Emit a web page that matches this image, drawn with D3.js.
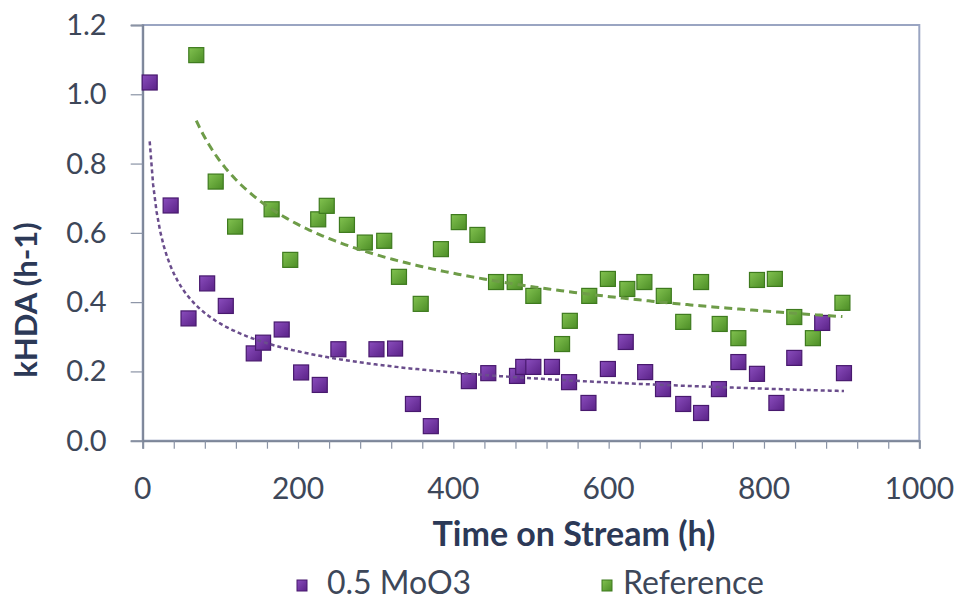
<!DOCTYPE html>
<html><head><meta charset="utf-8">
<script src="https://cdn.jsdelivr.net/npm/d3@7"></script>
<style>body{margin:0;background:#fff}svg{display:block}</style>
</head><body>
<svg id="c" width="960" height="602"></svg>
<script>
const seriesNames = ["0.5 MoO3", "Reference"];
const moX = [9,36,59,83,107,143,155,179,204,228,252,301,325,348,371,420,445,482,490,503,527,549,574,599,622,647,670,696,719,742,767,791,816,839,875,903];
const moY = [1.034,0.679,0.353,0.454,0.389,0.252,0.283,0.321,0.197,0.161,0.264,0.264,0.266,0.106,0.042,0.172,0.195,0.187,0.213,0.213,0.213,0.169,0.109,0.207,0.285,0.198,0.149,0.106,0.080,0.149,0.227,0.193,0.109,0.239,0.340,0.195];
const refX = [69,94,119,166,190,226,237,263,286,311,330,358,384,407,431,455,479,503,540,550,575,599,624,646,671,696,719,743,767,791,814,839,863,901];
const refY = [1.113,0.748,0.618,0.668,0.522,0.639,0.678,0.623,0.572,0.577,0.473,0.395,0.553,0.631,0.594,0.458,0.458,0.418,0.279,0.346,0.418,0.467,0.438,0.458,0.418,0.343,0.458,0.337,0.296,0.464,0.467,0.357,0.296,0.398];
const xTicks = [0,200,400,600,800,1000];
const yTicks = [0,0.2,0.4,0.6,0.8,1.0,1.2];
const xTitle = "Time on Stream (h)";
const yTitle = "kHDA (h-1)";

const svg = d3.select("#c");
const L = 142.7, R = 919.3, T = 25, B = 440.7;
const x = d3.scaleLinear().domain([0,1000]).range([L,R]);
const y = d3.scaleLinear().domain([0,1.2]).range([B,T]);
const font = "Lato, 'Open Sans', sans-serif";

const defs = svg.append("defs");
function grad(id, c1, c2){
  const g = defs.append("linearGradient").attr("id",id).attr("x1","0").attr("y1","0").attr("x2","1").attr("y2","1");
  g.append("stop").attr("offset","0").attr("stop-color",c1);
  g.append("stop").attr("offset","1").attr("stop-color",c2);
}
grad("gp","#8a4dbd","#5a2287");
grad("gg","#82c250","#4c8d26");

// frame
svg.append("rect").attr("x",L).attr("y",T).attr("width",R-L).attr("height",B-T)
  .attr("fill","none").attr("stroke","#9aa5c2").attr("stroke-width",2);

// x axis
const xa = svg.append("g").attr("transform",`translate(0,${B})`)
  .call(d3.axisBottom(x).tickValues(d3.range(0,1001,40)).tickSize(8).tickFormat(""));
xa.select(".domain").attr("stroke","#7d8698").attr("stroke-width",2);
xa.selectAll(".tick line").attr("stroke","#8a93a5").attr("stroke-width",1.2);
svg.append("g").selectAll("text").data(xTicks).join("text")
  .attr("x",d=>x(d)).attr("y",B+58).attr("text-anchor","middle")
  .attr("font-family",font).attr("font-size",30).attr("fill","#3d4759")
  .text(d=>d);

// y axis
const ya = svg.append("g").attr("transform",`translate(${L},0)`)
  .call(d3.axisLeft(y).tickValues(yTicks).tickSize(12).tickFormat(""));
ya.select(".domain").attr("stroke","#7d8698").attr("stroke-width",2);
ya.selectAll(".tick line").attr("stroke","#8a93a5").attr("stroke-width",1.2);
svg.append("g").selectAll("text").data(yTicks).join("text")
  .attr("x",L-36).attr("y",d=>y(d)+10).attr("text-anchor","end")
  .attr("font-family",font).attr("font-size",29).attr("fill","#3d4759")
  .text(d=>d.toFixed(1));

// titles
svg.append("text").attr("x",574).attr("y",546).attr("text-anchor","middle")
  .attr("font-family",font).attr("font-weight","bold").attr("font-size",34).attr("fill","#2c3957")
  .text(xTitle);
svg.append("text").attr("transform","translate(37,300) rotate(-90)").attr("text-anchor","middle")
  .attr("font-family",font).attr("font-weight","bold").attr("font-size",31).attr("fill","#2c3957")
  .text(yTitle);

// power trendlines (least squares on ln-ln)
function powerFit(xs, ys){
  const lx = xs.map(Math.log), ly = ys.map(Math.log);
  const mx = d3.mean(lx), my = d3.mean(ly);
  let num=0, den=0;
  lx.forEach((v,i)=>{num+=(v-mx)*(ly[i]-my); den+=(v-mx)*(v-mx);});
  const b = num/den, a = Math.exp(my - b*mx);
  return t => a*Math.pow(t,b);
}
function trend(xs, ys, color, dash, w){
  const f = powerFit(xs, ys);
  const [x0,x1] = d3.extent(xs);
  const pts = d3.range(0,201).map(i=>x0+(x1-x0)*i/200).map(t=>[t,f(t)]);
  svg.append("path").datum(pts)
    .attr("d", d3.line().x(d=>x(d[0])).y(d=>y(d[1])))
    .attr("fill","none").attr("stroke",color).attr("stroke-width",w).attr("stroke-dasharray",dash);
}

function markers(xs, ys, fill, stroke){
  svg.append("g").selectAll("rect").data(xs.map((v,i)=>[v,ys[i]])).join("rect")
    .attr("x",d=>x(d[0])-7.5).attr("y",d=>y(d[1])-7.5).attr("width",15).attr("height",15)
    .attr("fill",fill).attr("stroke",stroke).attr("stroke-width",1.2);
}
markers(refX, refY, "url(#gg)", "#3e7a1e");
markers(moX, moY, "url(#gp)", "#48196e");
trend(refX, refY, "#6e9c48", "8,5", 3);
trend(moX, moY, "#6a4d8c", "4,3", 2.5);

// legend
const leg = [{name:seriesNames[0], fill:"url(#gp)", stroke:"#48196e", mx:302, tx:327},
             {name:seriesNames[1], fill:"url(#gg)", stroke:"#3e7a1e", mx:607, tx:623}];
const lg = svg.append("g");
lg.selectAll("rect").data(leg).join("rect")
  .attr("x",d=>d.mx-5).attr("y",580).attr("width",10).attr("height",11)
  .attr("fill",d=>d.fill).attr("stroke",d=>d.stroke).attr("stroke-width",1);
lg.selectAll("text").data(leg).join("text")
  .attr("x",d=>d.tx).attr("y",594).attr("font-family",font).attr("font-size",32).attr("fill","#3d4759")
  .text(d=>d.name);
</script>
</body></html>
